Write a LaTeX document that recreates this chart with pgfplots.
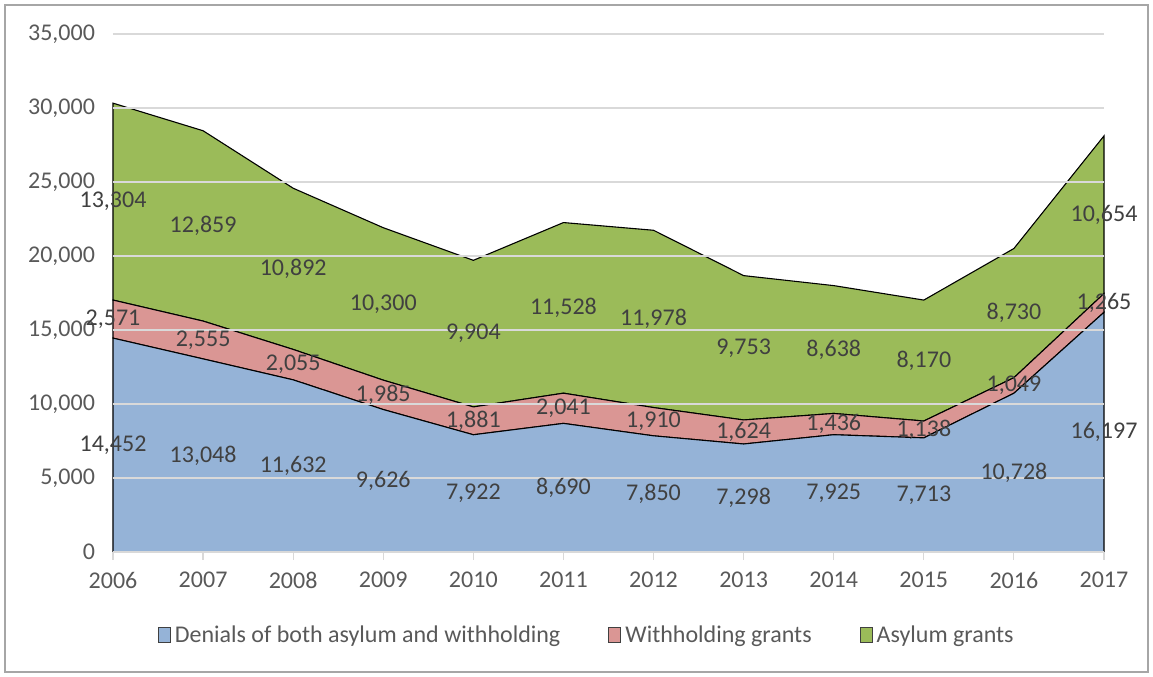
\documentclass[border=0pt]{standalone}
\usepackage{pgfplots}
\pgfplotsset{compat=1.18}
\usepackage{pgfplotstable}
\usepackage{fontspec}
\setmainfont{Carlito}

\definecolor{denblue}{HTML}{95B3D7}
\definecolor{withred}{HTML}{DA9694}
\definecolor{asygreen}{HTML}{9BBB59}
\definecolor{txtgray}{HTML}{595959}
\definecolor{lblgray}{HTML}{404040}
\definecolor{gridgray}{HTML}{D9D9D9}
\definecolor{framegray}{HTML}{A6A6A6}

% Asylum decisions by outcome, 2006-2017
\pgfplotstableread{
year den with asy
2006 14452 2571 13304
2007 13048 2555 12859
2008 11632 2055 10892
2009 9626 1985 10300
2010 7922 1881 9904
2011 8690 2041 11528
2012 7850 1910 11978
2013 7298 1624 9753
2014 7925 1436 8638
2015 7713 1138 8170
2016 10728 1049 8730
2017 16197 1265 10654
}\decisions

\begin{document}
\begin{tikzpicture}
\begin{axis}[
  scale only axis, width=495.5pt, height=259pt,
  xmin=2006, xmax=2017, ymin=0, ymax=35000,
  xtick={2006,...,2017}, ytick={0,5000,...,35000},
  scaled y ticks=false,
  font=\fontsize{12}{14}\selectfont,
  /pgf/number format/assume math mode=true,
  yticklabel style={/pgf/number format/fixed, /pgf/number format/precision=0,
    /pgf/number format/1000 sep={,}, xshift=-1.5pt},
  xticklabel style={/pgf/number format/1000 sep=, yshift=-2.5pt},
  ticklabel style={text=txtgray},
  axis line style={draw=none},
  axis x line*=bottom,
  x axis line style={draw=gridgray, line width=0.6pt},
  ytick style={draw=none},
  xtick style={draw=gridgray, line width=0.6pt},
  tick align=outside, major tick length=4pt,
  ymajorgrids, grid style={draw=gridgray, line width=0.6pt},
  stack plots=y, area style,
  every axis plot/.append style={draw=black, line width=0.55pt},
  clip=false,
  nodes near coords={\pgfmathprintnumber[fixed,precision=0,1000 sep={,}]{\pgfplotspointmeta}},
  point meta=explicit,
  visualization depends on={rawy/2 \as \halfy},
  every node near coord/.append style={anchor=center, text=lblgray,
    font=\fontsize{12}{14}\selectfont,
    shift={(axis direction cs:0,-\halfy)}},
  legend style={draw=none, at={(rel axis cs:0.479,-0.162)}, anchor=center,
    legend columns=-1, text=txtgray, font=\fontsize{12}{14}\selectfont,
    /tikz/every even column/.append style={column sep=22pt}},
  legend image code/.code={\draw[#1, draw=black!75, line width=0.5pt] (0pt,-3.4pt) rectangle (6pt,4pt);},
]
\addplot[fill=denblue] table[x=year, y=den, meta=den] {\decisions} \closedcycle;
\addlegendentry{Denials of both asylum and withholding}
\addplot[fill=withred] table[x=year, y=with, meta=with] {\decisions} \closedcycle;
\addlegendentry{Withholding grants}
\addplot[fill=asygreen] table[x=year, y=asy, meta=asy] {\decisions} \closedcycle;
\addlegendentry{Asylum grants}
\end{axis}
\draw[framegray, line width=0.75pt]
  ([shift={(-54pt,-60pt)}]current axis.south west) rectangle
  ([shift={(22pt,14.5pt)}]current axis.north east);
\path ([shift={(-56.5pt,-62.5pt)}]current axis.south west) rectangle
  ([shift={(24.5pt,17pt)}]current axis.north east);
\end{tikzpicture}
\end{document}
